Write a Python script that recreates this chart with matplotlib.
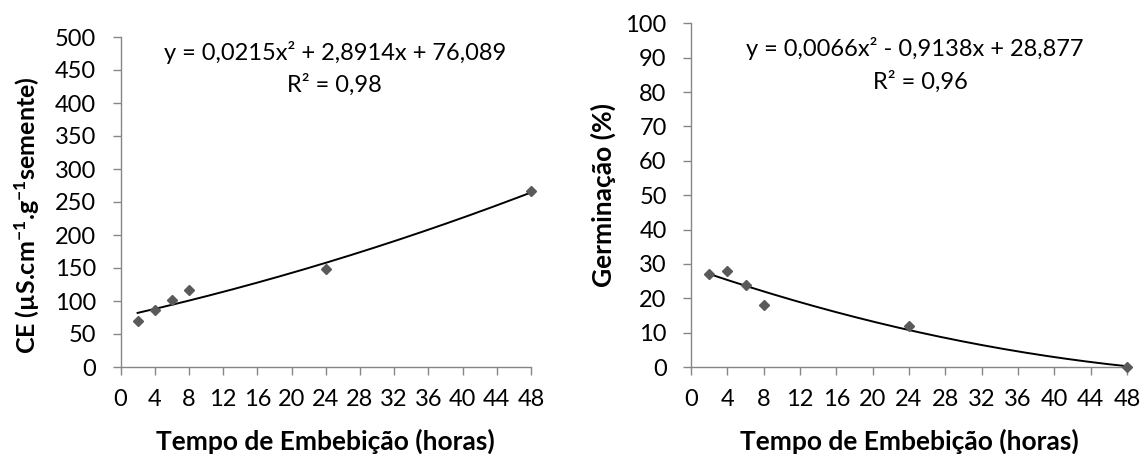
import matplotlib
matplotlib.use("Agg")
import matplotlib.pyplot as plt
import numpy as np

plt.rcParams["font.family"] = ["Lato", "DejaVu Sans"]
plt.rcParams["mathtext.fontset"] = "custom"
plt.rcParams["mathtext.rm"] = "Lato"
plt.rcParams["mathtext.bf"] = "Lato:bold"
plt.rcParams["mathtext.it"] = "Lato:italic"

# Imbibition time (hours)
horas = [2, 4, 6, 8, 24, 48]
# Electrical conductivity (uS cm-1 g-1 seed)
ce = [70, 86, 101, 116, 149, 266]
# Germination (%)
germinacao = [27, 28, 24, 18, 12, 0]

# Quadratic trend lines: a*x^2 + b*x + c
coef_ce = (0.0215, 2.8914, 76.089)
coef_germ = (0.0066, -0.9138, 28.877)
r2_ce = "0,98"
r2_germ = "0,96"
eq_ce = "y = 0,0215x² + 2,8914x + 76,089"
eq_germ = "y = 0,0066x² - 0,9138x + 28,877"

xticks = list(range(0, 49, 4))
yticks_ce = list(range(0, 501, 50))
yticks_germ = list(range(0, 101, 10))

xlabel = "Tempo de Embebição (horas)"
ylabel_ce = r"CE (µS.cm$\mathbf{^{-1}}$.g$\mathbf{^{-1}}$semente)"
ylabel_germ = "Germinação (%)"

W, H = 1143, 454
fig = plt.figure(figsize=(W / 100, H / 100), dpi=100)

axis_gray = "#868686"
marker_gray = "#5a5a5a"
tick_fs = 17
label_fs = 19
eq_fs = 17


def px_axes(x0, x1, ytop, ybot):
    return fig.add_axes([x0 / W, 1 - ybot / H, (x1 - x0) / W, (ybot - ytop) / H])


def style(ax, ymax, yticks, ylab, ylab_xy, xlab_y, ylab_fs):
    ax.set_xlim(0, 48)
    ax.set_ylim(0, ymax)
    ax.set_xticks(xticks)
    ax.set_yticks(yticks)
    for s in ("top", "right"):
        ax.spines[s].set_visible(False)
    for s in ("left", "bottom"):
        ax.spines[s].set_color(axis_gray)
        ax.spines[s].set_linewidth(1.0)
    ax.tick_params(axis="both", direction="out", length=5.5, width=1.0,
                   color=axis_gray, labelsize=tick_fs, labelcolor="black")
    ax.tick_params(axis="y", pad=12)
    ax.tick_params(axis="x", pad=10)
    ax.set_xlabel(xlabel, fontsize=label_fs, fontweight="bold", va="center")
    ax.xaxis.set_label_coords(0.5, xlab_y)
    ax.set_ylabel(ylab, fontsize=ylab_fs, fontweight="bold", va="center")
    ax.yaxis.set_label_coords(*ylab_xy)


def trend(ax, coef):
    a, b, c = coef
    xs = np.linspace(min(horas), max(horas), 200)
    ax.plot(xs, a * xs ** 2 + b * xs + c, color="black", lw=1.4, zorder=2)


ax1 = px_axes(120.5, 531, 37, 367)
style(ax1, 500, yticks_ce, ylabel_ce, (-0.228, 0.46), -0.224, 18)
ax1.plot(horas, ce, linestyle="none", marker="D", markersize=5.5,
         color=marker_gray, clip_on=False, zorder=3)
trend(ax1, coef_ce)
fig.text(335 / W, 1 - 52 / H, eq_ce, fontsize=eq_fs, ha="center", va="center")
fig.text(334 / W, 1 - 85 / H, "R² = " + r2_ce, fontsize=eq_fs, ha="center", va="center")

ax2 = px_axes(691, 1127, 23.3, 367)
style(ax2, 100, yticks_germ, ylabel_germ, (-0.202, 0.5), -0.215, label_fs)
ax2.plot(horas, germinacao, linestyle="none", marker="D", markersize=5.5,
         color=marker_gray, clip_on=False, zorder=3)
trend(ax2, coef_germ)
fig.text(915 / W, 1 - 48 / H, eq_germ, fontsize=eq_fs, ha="center", va="center")
fig.text(920 / W, 1 - 82 / H, "R² = " + r2_germ, fontsize=eq_fs, ha="center", va="center")

fig.savefig("out.png", dpi=100, facecolor="white")
